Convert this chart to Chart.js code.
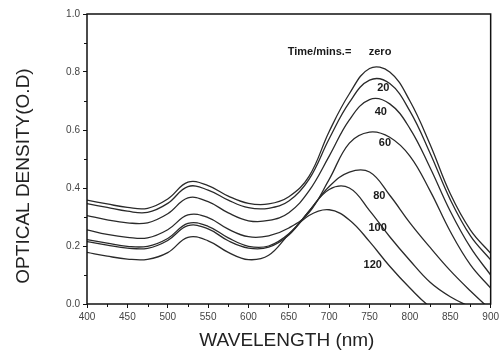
<!DOCTYPE html>
<html>
<head>
<meta charset="utf-8">
<script src="https://cdn.jsdelivr.net/npm/chart.js@4.4.1/dist/chart.umd.min.js"></script>
<style>
  html, body { margin: 0; padding: 0; background: #fff; }
  canvas { display: block; }
</style>
</head>
<body>
<canvas id="chart" width="502" height="356"></canvas>
<script>
// Absorption spectra, one array per time step
const wavelengths = [400, 425, 450, 475, 500, 525, 550, 575, 600, 625, 650, 675, 700, 725, 750, 775, 800, 825, 850, 875, 900];
const odZero = [0.358, 0.345, 0.333, 0.330, 0.362, 0.420, 0.408, 0.372, 0.347, 0.345, 0.370, 0.440, 0.595, 0.725, 0.812, 0.800, 0.700, 0.550, 0.380, 0.255, 0.175];
const od20   = [0.346, 0.333, 0.320, 0.316, 0.347, 0.405, 0.393, 0.358, 0.332, 0.330, 0.355, 0.430, 0.570, 0.695, 0.772, 0.760, 0.665, 0.520, 0.360, 0.235, 0.152];
const od40   = [0.305, 0.290, 0.280, 0.280, 0.311, 0.366, 0.353, 0.314, 0.287, 0.288, 0.315, 0.390, 0.510, 0.635, 0.705, 0.690, 0.605, 0.470, 0.320, 0.195, 0.100];
const od60   = [0.256, 0.240, 0.230, 0.228, 0.256, 0.307, 0.298, 0.258, 0.232, 0.235, 0.262, 0.315, 0.430, 0.555, 0.593, 0.575, 0.510, 0.390, 0.250, 0.135, 0.055];
const od80   = [0.222, 0.210, 0.199, 0.199, 0.226, 0.278, 0.268, 0.228, 0.199, 0.200, 0.242, 0.320, 0.405, 0.455, 0.455, 0.375, 0.280, 0.195, 0.115, 0.045, -0.020];
const od100  = [0.215, 0.203, 0.193, 0.192, 0.219, 0.270, 0.259, 0.218, 0.193, 0.196, 0.238, 0.320, 0.395, 0.400, 0.322, 0.232, 0.150, 0.075, 0.025, -0.010, -0.040];
const od120  = [0.178, 0.165, 0.155, 0.154, 0.177, 0.230, 0.218, 0.178, 0.153, 0.168, 0.240, 0.305, 0.325, 0.290, 0.215, 0.130, 0.055, -0.010, -0.050, -0.080, -0.100];

const seriesNames = ['zero', '20', '40', '60', '80', '100', '120'];
const seriesValues = [odZero, od20, od40, od60, od80, od100, od120];

const xMinorTicks = [425, 475, 525, 575, 625, 675, 725, 775, 825, 875];
const yMinorTicks = [0.1, 0.3, 0.5, 0.7, 0.9];

// in-plot labels, anchored in data units (nm, O.D)
const curveLabels = [
  { text: 'Time/mins.=', nm: 688, od: 0.870 },
  { text: 'zero', nm: 763, od: 0.870 },
  { text: '20',   nm: 767, od: 0.746 },
  { text: '40',   nm: 764, od: 0.663 },
  { text: '60',   nm: 769, od: 0.556 },
  { text: '80',   nm: 762, od: 0.373 },
  { text: '100',  nm: 760, od: 0.263 },
  { text: '120',  nm: 754, od: 0.135 }
];

const FONT = '"Liberation Sans", Arial, sans-serif';
Chart.defaults.font.family = FONT;

const framePlugin = {
  id: 'frame',
  afterDraw(chart) {
    const { ctx, chartArea: a, scales: { x, y } } = chart;
    ctx.save();
    ctx.strokeStyle = '#111';
    ctx.lineWidth = 1.5;
    ctx.strokeRect(a.left, a.top, a.right - a.left, a.bottom - a.top);

    // minor ticks
    ctx.lineWidth = 1;
    ctx.beginPath();
    xMinorTicks.forEach(v => {
      const px = Math.round(x.getPixelForValue(v)) + 0.5;
      ctx.moveTo(px, a.bottom);
      ctx.lineTo(px, a.bottom + 3);
    });
    yMinorTicks.forEach(v => {
      const py = Math.round(y.getPixelForValue(v)) + 0.5;
      ctx.moveTo(a.left, py);
      ctx.lineTo(a.left - 3, py);
    });
    ctx.stroke();

    // axis titles
    ctx.fillStyle = '#222';
    ctx.font = '19px ' + FONT;
    ctx.textAlign = 'center';
    ctx.textBaseline = 'middle';
    ctx.fillText('WAVELENGTH (nm)', (a.left + a.right) / 2 - 2, a.bottom + 37);
    ctx.translate(24, (a.top + a.bottom) / 2 + 17);
    ctx.rotate(-Math.PI / 2);
    ctx.fillText('OPTICAL DENSITY(O.D)', 0, 0);
    ctx.restore();
  },
  afterDatasetsDraw(chart) {
    const { ctx, scales: { x, y } } = chart;
    ctx.save();
    ctx.fillStyle = '#1a1a1a';
    ctx.font = 'bold 11px ' + FONT;
    ctx.textAlign = 'center';
    ctx.textBaseline = 'middle';
    curveLabels.forEach(l => {
      ctx.fillText(l.text, x.getPixelForValue(l.nm), y.getPixelForValue(l.od));
    });
    ctx.restore();
  }
};

new Chart(document.getElementById('chart'), {
  type: 'line',
  data: {
    datasets: seriesValues.map((vals, i) => ({
      label: seriesNames[i],
      data: vals.map((v, j) => ({ x: wavelengths[j], y: v })),
      borderColor: '#2a2a2a',
      borderWidth: 1.3,
      pointRadius: 0,
      tension: 0.4,
      fill: false
    }))
  },
  options: {
    responsive: false,
    animation: false,
    devicePixelRatio: 1,
    layout: { padding: { top: 14, right: 10, left: 0, bottom: 0 } },
    plugins: { legend: { display: false }, tooltip: { enabled: false } },
    scales: {
      x: {
        type: 'linear',
        min: 400, max: 900,
        afterFit: s => { s.height = 52; },
        border: { display: false },
        grid: { drawOnChartArea: false, drawTicks: true, tickLength: 4, color: '#111' },
        ticks: { stepSize: 50, color: '#444', font: { size: 10 }, padding: 3, maxRotation: 0 }
      },
      y: {
        min: 0, max: 1,
        afterFit: s => { s.width = 87; },
        border: { display: false },
        grid: { drawOnChartArea: false, drawTicks: true, tickLength: 4, color: '#111' },
        ticks: { stepSize: 0.2, color: '#444', font: { size: 10 }, padding: 3,
                 callback: v => v.toFixed(1) }
      }
    }
  },
  plugins: [framePlugin]
});
</script>
</body>
</html>
